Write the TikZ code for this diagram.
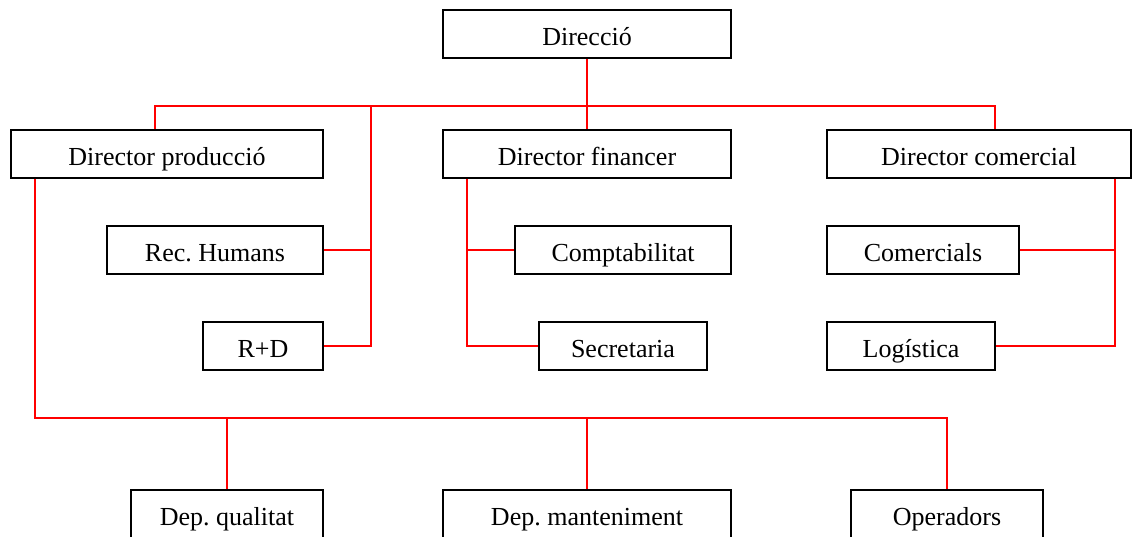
\documentclass[tikz,border=0pt]{standalone}
\usepackage{fontspec}
\setmainfont{Liberation Serif}
\usepackage{tikz}
\usetikzlibrary{positioning}
\frenchspacing
\tikzset{box/.style={draw, line width=1.2pt, minimum height=48pt, inner sep=0pt, text height=22pt, text depth=0pt, font=\fontsize{26}{30}\selectfont}}
\tikzset{link/.style={draw=red, line width=1.5pt}}

\begin{document}
\begin{tikzpicture}[x=1pt, y=-1pt]
  \useasboundingbox (0,0) rectangle (1133,536);
  \node(dir) [box, minimum width=288pt] at (587,34) {Direcció};
  \node(dprod) [box, minimum width=312pt] at (167,154) {Director producció};
  \node(dfin) [box, minimum width=288pt] at (587,154) {Director financer};
  \node(dcom) [box, minimum width=304pt] at (979,154) {Director comercial};
  \node(rh) [box, minimum width=216pt] at (215,250) {Rec. Humans};
  \node(rd) [box, minimum width=120pt] at (263,346) {R+D};
  \node(comp) [box, minimum width=216pt] at (623,250) {Comptabilitat};
  \node(secr) [box, minimum width=168pt] at (623,346) {Secretaria};
  \node(comer) [box, minimum width=192pt] at (923,250) {Comercials};
  \node(logi) [box, minimum width=168pt] at (911,346) {Logística};
  \node(qual) [box, minimum width=192pt] at (227,514) {Dep. qualitat};
  \node(mant) [box, minimum width=288pt] at (587,514) {Dep. manteniment};
  \node(oper) [box, minimum width=192pt] at (947,514) {Operadors};
  % junction points
  \coordinate(jl) at (155,106);
  \coordinate(jr) at (995,106);
  \coordinate(jrh) at (371,106);
  \coordinate(jfin) at (467,0);
  \coordinate(jcom) at (1115,0);
  \coordinate(jprod) at (35,0);
  \coordinate(jdep) at (947,418);
  \draw[link]
   (dir) -- (dfin)
   (jl |- dprod.north) -- (jl) -- (jr) -- (jr |- dcom.north)
   (jrh) |- (rd.east)
   (rh.east) -- (rh.east -| jrh)
   (jfin |- dfin.south) |- (secr.west)
   (comp.west -| jfin) -- (comp.west)
   (jcom |- dcom.south) |- (logi.east)
   (comer.east) -- (comer.east -| jcom)
   (jprod |- dprod.south) |- (jdep) -- (oper.north)
   (qual.north) -- (qual.north |- jdep)
   (mant.north) -- (mant.north |- jdep);
\end{tikzpicture}
\end{document}
